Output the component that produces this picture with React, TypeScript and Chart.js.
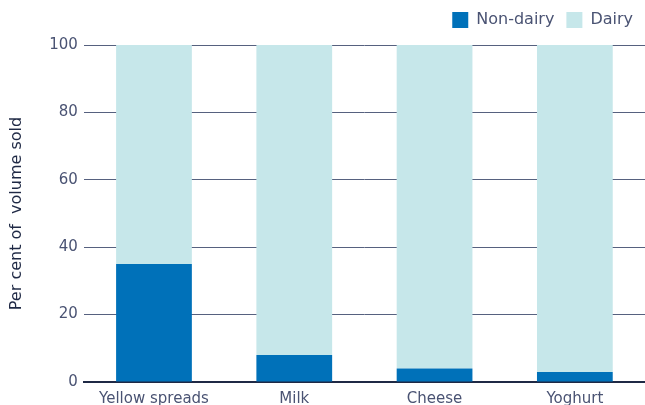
import React, { useEffect, useRef } from "react";
import { Chart, registerables } from "chart.js";

Chart.register(...registerables);

const categories = ["Yellow spreads", "Milk", "Cheese", "Yoghurt"];
const nonDairy = [35, 8, 4, 3];
const dairy = [65, 92, 96, 97];
const yTicks = [0, 20, 40, 60, 80, 100];

const FONT = "'DejaVu Sans'";
const TXT = "#4a5373";

const legendMargin = {
  id: "legendMargin",
  afterInit(chart: any) {
    const lg = chart.legend;
    if (!lg) return;
    const fit = lg.fit;
    lg.fit = function () {
      fit.call(this);
      this.height += 7;
    };
  },
};

export default function App() {
  const ref = useRef<HTMLCanvasElement>(null);
  useEffect(() => {
    document.body.style.margin = "0";
    const ctx = ref.current!;
    const chart = new Chart(ctx, {
      type: "bar",
      data: {
        labels: categories,
        datasets: [
          { label: "Non-dairy", data: nonDairy, backgroundColor: "#0071b9", barPercentage: 0.54, categoryPercentage: 1 },
          { label: "Dairy", data: dairy, backgroundColor: "#c6e7ea", barPercentage: 0.54, categoryPercentage: 1 },
        ],
      },
      plugins: [legendMargin],
      options: {
        animation: false,
        responsive: false,
        maintainAspectRatio: false,
        layout: { padding: { left: 7, right: 0, top: 0, bottom: -3 } },
        plugins: {
          legend: {
            position: "top",
            align: "end",
            labels: {
              boxWidth: 16,
              boxHeight: 16,
              padding: 12,
              color: TXT,
              font: { family: FONT, size: 16 },
            },
          },
          tooltip: { enabled: false },
        },
        scales: {
          x: {
            stacked: true,
            grid: { display: false },
            border: { display: true, color: "#1f2945", width: 2 },
            ticks: { color: TXT, font: { family: FONT, size: 15 }, padding: 0 },
          },
          y: {
            stacked: true,
            min: 0,
            max: 100,
            afterBuildTicks: (axis: any) => {
              axis.ticks = yTicks.map((v) => ({ value: v }));
            },
            grid: { color: "#56617f", lineWidth: 1, drawTicks: false },
            border: { display: false },
            ticks: { color: TXT, font: { family: FONT, size: 15 }, padding: 6 },
            title: {
              display: true,
              text: "Per cent of  volume sold",
              color: "#1f2945",
              font: { family: FONT, size: 16 },
              padding: { top: 0, bottom: 17 },
            },
          },
        },
      },
    });
    return () => chart.destroy();
  }, []);
  return (
    <div style={{ width: 645, height: 405 }}>
      <canvas ref={ref} width={645} height={405} style={{ width: 645, height: 405 }} />
    </div>
  );
}
